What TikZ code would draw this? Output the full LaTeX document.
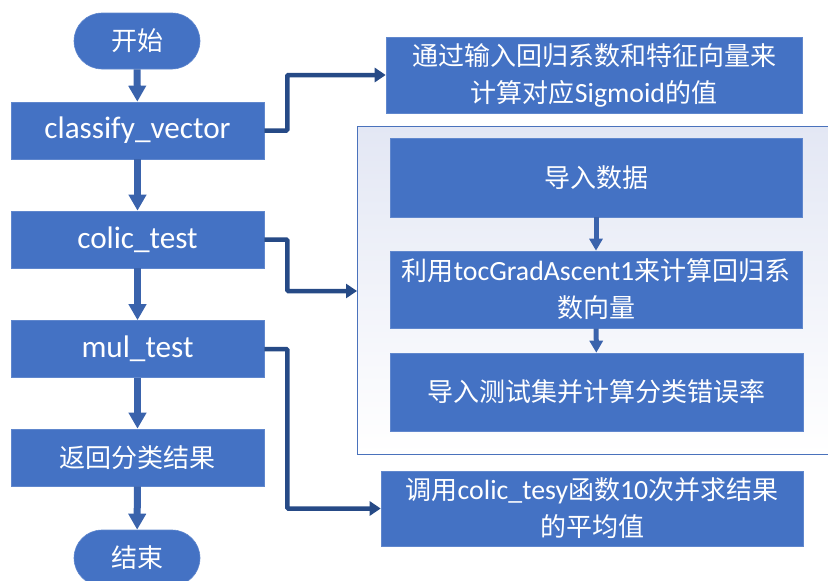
\documentclass[tikz,border=0pt]{standalone}
\usepackage{fontspec}
\setmainfont{Carlito}[Scale=1.2]
\newfontfamily\sidelatin{Carlito}[Scale=1.07]
\newfontfamily\cjk{Noto Sans CJK SC}
\usetikzlibrary{arrows.meta}
\definecolor{boxblue}{HTML}{4472C4}
\definecolor{flowblue}{HTML}{3A63AC}
\definecolor{linkblue}{HTML}{264A86}
\definecolor{panelborder}{HTML}{4A72BC}
\definecolor{paneltop}{HTML}{E3E7F4}
\tikzset{
  procbox/.style={rectangle, fill=boxblue, draw=boxblue!85!white, line width=0.6pt,
    text=white, align=center, inner sep=0pt,
    font=\fontsize{26}{37}\selectfont},
  sidebox/.style={procbox, font=\fontsize{26}{37}\selectfont\sidelatin},
  termbox/.style={procbox, rounded corners=28pt, minimum width=126pt, minimum height=56pt},
  flowarrow/.style={draw=flowblue, line width=7pt,
    -{Triangle[width=17pt,length=16pt]}},
  linkarrow/.style={draw=linkblue, line width=4.5pt, rounded corners=1pt,
    -{Triangle[width=14pt,length=11pt]}},
}
\begin{document}
\begin{tikzpicture}[x=1pt,y=-1pt]
\useasboundingbox (0,0) rectangle (828,581);
\clip (0,0) rectangle (828,581);

% group panel behind the three inner steps
\shade[top color=paneltop, bottom color=white, draw=panelborder, line width=1pt]
  (357,126) rectangle (840,454);

% main column
\node[termbox] (start) at (137,41) {\cjk 开始};
\node[procbox, minimum width=253pt, minimum height=57pt] (classify) at (137.5,130.5) {classify\_vector};
\node[procbox, minimum width=253pt, minimum height=57pt] (colic) at (137.5,239.5) {colic\_test};
\node[procbox, minimum width=253pt, minimum height=57pt] (mul) at (137.5,349) {mul\_test};
\node[procbox, minimum width=253pt, minimum height=57pt] (ret) at (137.5,457.5) {\cjk 返回分类结果};
\node[termbox] (stop) at (137,558) {\cjk 结束};

% right column
\node[sidebox, minimum width=416pt, minimum height=76pt] (sig) at (594,75)
  {{\cjk 通过输入回归系数和特征向量来}\\{\cjk 计算对应}Sigmoid{\cjk 的值}};
\node[sidebox, minimum width=412pt, minimum height=79pt] (load) at (596,177.5) {\cjk 导入数据};
\node[sidebox, minimum width=412pt, minimum height=77pt] (grad) at (596,289.5)
  {{\cjk 利用}tocGradAscent1{\cjk 来计算回归系}\\{\cjk 数向量}};
\node[sidebox, minimum width=413pt, minimum height=78pt] (err) at (596.5,392) {\cjk 导入测试集并计算分类错误率};
\node[sidebox, minimum width=422pt, minimum height=75pt] (avg) at (592,508.5)
  {{\cjk 调用}colic\_tesy{\cjk 函数}10{\cjk 次并求结果}\\{\cjk 的平均值}};

\coordinate (panelin) at (357,291);

% main flow
\draw[flowarrow] (start) -- (classify);
\draw[flowarrow] (classify) -- (colic);
\draw[flowarrow] (colic) -- (mul);
\draw[flowarrow] (mul) -- (ret);
\draw[flowarrow] (ret) -- (stop);
\draw[flowarrow, line width=5pt, -{Triangle[width=13pt,length=12pt]}] (load) -- (grad);
\draw[flowarrow, line width=5pt, -{Triangle[width=13pt,length=12pt]}] (grad) -- (err);

% side links
\draw[linkarrow] (classify.east) -- ++(23,0) |- (sig.west);
\draw[linkarrow] (colic.east) -- ++(23,0) |- (panelin);
\draw[linkarrow] (mul.east) -- ++(23,0) |- (avg.west);
\end{tikzpicture}
\end{document}
